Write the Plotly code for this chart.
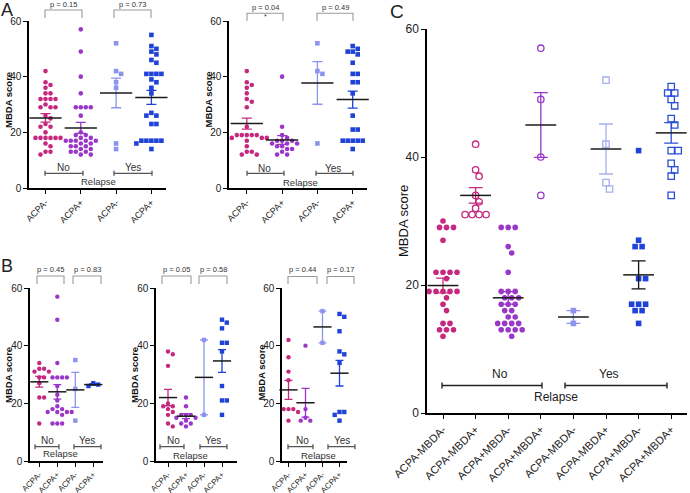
import numpy as np
import plotly.graph_objects as go

W, H = 690, 493

# ---- data (MBDA scores) ----
ab_ticks = ["ACPA-", "ACPA+", "ACPA-", "ACPA+"]
c_ticks = ["ACPA-MBDA-", "ACPA-MBDA+", "ACPA+MBDA-", "ACPA+MBDA+",
           "ACPA-MBDA-", "ACPA-MBDA+", "ACPA+MBDA-", "ACPA+MBDA+"]

a1_neg_no = [42, 38, 37, 36, 34, 34, 32, 32, 32, 32, 30, 29, 29, 29, 26, 25, 23, 22, 22,
             20, 18, 18, 18, 18, 18, 18, 16, 15, 13, 13, 12]
a1_pos_no = [57, 49, 40, 34, 29, 29, 29, 29, 26, 20, 19, 19, 18, 18, 17, 17, 17, 17, 17,
             16, 16, 15, 15, 15, 14, 14, 13, 13, 13, 12, 12]
a1_neg_yes = [52, 42, 41, 38, 36, 16, 14]
a1_pos_yes = [55, 51, 50, 49, 48, 46, 45, 41, 41, 41, 41, 39, 38, 36, 34, 27, 26, 26, 23, 23,
              17, 17, 17, 17, 17, 16, 16, 14]

a2_neg_no = [42, 38, 37, 36, 34, 32, 31, 29, 22, 19, 19, 19, 19, 19, 18, 18, 18, 17, 15,
             13, 13, 12, 12]
a2_pos_no = [40, 22, 19, 18, 17, 17, 17, 16, 16, 16, 15, 15, 14, 14, 13, 12, 12]
a2_neg_yes = [52, 42, 41, 16]
a2_pos_yes = [51, 50, 49, 49, 48, 45, 41, 41, 38, 38, 34, 26, 21, 21, 17, 17, 17, 17, 17, 16, 14]

b1_neg_no = [34, 32, 32, 31, 31, 29, 29, 27, 22, 22, 13]
b1_pos_no = [57, 49, 34, 29, 29, 29, 29, 26, 23, 21, 19, 18, 18, 17, 17, 17, 17, 16, 13, 13, 13]
b1_neg_yes = [35, 25, 14]
b1_pos_yes = [26, 26.5, 27]

b2_neg_no = [38, 37, 33, 20, 19, 19, 18, 17, 16, 13, 12]
b2_pos_no = [22, 19, 16, 16, 16, 15, 15, 14, 13, 13, 12]
b2_neg_yes = [42, 16]
b2_pos_yes = [49, 48, 46, 41, 41, 38, 26, 21, 21, 16]

b3_neg_no = [42, 36, 31, 28, 18, 18, 18, 17, 14]
b3_pos_no = [40, 18, 15, 14, 14]
b3_neg_yes = [52, 41]
b3_pos_yes = [51, 50, 45, 38, 37, 34, 17, 17, 16, 16, 14]

c_neg_mneg_no = [30, 29, 29, 29, 27, 22, 22, 22, 22, 21, 19, 19, 19, 19, 19, 18, 17, 16, 14,
                 14, 13, 13, 13, 12]
c_neg_mpos_no = [42, 38, 37, 34, 33, 32, 31, 31, 31, 31]
c_pos_mneg_no = [29, 29, 29, 26, 25, 22, 19, 19, 19, 18, 18, 18, 17, 17, 17, 16, 16, 15, 15,
                 14, 14, 14, 14, 13, 13, 13, 13, 12]
c_pos_mpos_no = [57, 49, 40, 34]
c_neg_mneg_yes = [16, 14]
c_neg_mpos_yes = [52, 42, 36, 35]
c_pos_mneg_yes = [41, 27, 26, 26, 21, 21, 17, 17, 17, 16, 16, 14]
c_pos_mpos_yes = [51, 50, 50, 49, 48, 46, 45, 41, 41, 39, 38, 37, 34]

a1_p = ["p = 0.15", "p = 0.73"]
a2_p = ["p = 0.04", "p = 0.49"]
b1_p = ["p = 0.45", "p = 0.83"]
b2_p = ["p = 0.05", "p = 0.58"]
b3_p = ["p = 0.44", "p = 0.17"]

PINK = "#c5287e"
PURPLE = "#9a37c8"
LBLUE = "#8c93ef"
BLUE = "#1f42d8"
LBLUE_OPEN = "#a7b0ee"
BLUE_OPEN = "#2a4fd6"
FONT = "Arial, Liberation Sans, sans-serif"


def px(x):
    return x / W


def py(y):
    return 1 - y / H


def swarm(vals, xpx, ypx, d):
    # simple beeswarm: spread points sideways so that dots do not overlap
    vals = np.asarray(vals, dtype=float)
    steps = [0.0]
    for i in range(1, 40):
        steps += [i * d / 2, -i * d / 2]
    placed, offs = [], np.zeros(len(vals))
    for idx in np.argsort(-vals, kind="stable"):
        y = vals[idx] * ypx
        for s in steps:
            if all((s - ox) ** 2 + (y - oy) ** 2 >= (0.97 * d) ** 2 for ox, oy in placed):
                break
        placed.append((s, y))
        offs[idx] = s / xpx
    return offs


ab_groups = lambda g: [
    (g[0], PINK, "circle", PINK),
    (g[1], PURPLE, "circle", PURPLE),
    (g[2], LBLUE, "square", LBLUE),
    (g[3], BLUE, "square", BLUE),
]

panels = [
    dict(box=(29, 166, 21, 188), cat0=45.5, sp=35.3, ticks=ab_ticks, msize=4.6, gap=5.0,
         mlen=23, cap=5, tfont=10, xfont=9,
         groups=ab_groups([a1_neg_no, a1_pos_no, a1_neg_yes, a1_pos_yes])),
    dict(box=(229, 367, 21, 188), cat0=246.8, sp=35.3, ticks=ab_ticks, msize=4.6, gap=5.0,
         mlen=23, cap=5, tfont=10, xfont=9,
         groups=ab_groups([a2_neg_no, a2_pos_no, a2_neg_yes, a2_pos_yes])),
    dict(box=(30, 103, 288, 461), cat0=39.3, sp=18, ticks=ab_ticks, msize=4.4, gap=4.8,
         mlen=13, cap=4, tfont=10, xfont=8,
         groups=ab_groups([b1_neg_no, b1_pos_no, b1_neg_yes, b1_pos_yes])),
    dict(box=(156, 237, 288, 461), cat0=168, sp=18, ticks=ab_ticks, msize=4.4, gap=4.8,
         mlen=13, cap=4, tfont=10, xfont=8,
         groups=ab_groups([b2_neg_no, b2_pos_no, b2_neg_yes, b2_pos_yes])),
    dict(box=(282, 347, 288, 461), cat0=288.5, sp=17, ticks=ab_ticks, msize=4.4, gap=4.8,
         mlen=13, cap=4, tfont=10, xfont=8,
         groups=ab_groups([b3_neg_no, b3_pos_no, b3_neg_yes, b3_pos_yes])),
    dict(box=(427, 687, 29, 413), cat0=443, sp=32.6, ticks=c_ticks, msize=5.6, gap=7.0,
         mlen=22, cap=7, tfont=12, xfont=11,
         groups=[
             (c_neg_mneg_no, PINK, "circle", PINK),
             (c_neg_mpos_no, PINK, "circle-open", PINK),
             (c_pos_mneg_no, PURPLE, "circle", PURPLE),
             (c_pos_mpos_no, PURPLE, "circle-open", PURPLE),
             (c_neg_mneg_yes, LBLUE, "square", LBLUE),
             (c_neg_mpos_yes, LBLUE_OPEN, "square-open", LBLUE_OPEN),
             (c_pos_mneg_yes, BLUE, "square", "#111111"),
             (c_pos_mpos_yes, BLUE_OPEN, "square-open", BLUE_OPEN),
         ]),
]

fig = go.Figure()
layout = {}
for k, p in enumerate(panels):
    sfx = "" if k == 0 else str(k + 1)
    xa, ya = "x" + sfx, "y" + sfx
    left, right, top, bottom = p["box"]
    xr = [(left - p["cat0"]) / p["sp"], (right - p["cat0"]) / p["sp"]]
    ypx = (bottom - top) / 60.0
    n = len(p["ticks"])
    layout["xaxis" + sfx] = dict(
        domain=[px(left), px(right)], range=xr, anchor=ya, automargin=False,
        tickmode="array", tickvals=list(range(n)), ticktext=p["ticks"], tickangle=-45,
        showline=True, linecolor="black", linewidth=1.5, ticks="outside", ticklen=4,
        tickwidth=1.3, tickcolor="black", showgrid=False, zeroline=False,
        tickfont=dict(size=p["xfont"], color="#222", family=FONT),
    )
    layout["yaxis" + sfx] = dict(
        domain=[py(bottom), py(top)], range=[0, 60], anchor=xa, automargin=False,
        tickmode="array", tickvals=[0, 20, 40, 60],
        showline=True, linecolor="black", linewidth=1.5, ticks="outside", ticklen=4,
        tickwidth=1.3, tickcolor="black", showgrid=False, zeroline=False,
        tickfont=dict(size=p["tfont"], color="#222", family=FONT),
    )
    # dots
    for i, (vals, col, sym, ecol) in enumerate(p["groups"]):
        offs = swarm(vals, p["sp"], ypx, p["gap"])
        open_ = sym.endswith("open")
        fig.add_trace(go.Scatter(
            x=i + offs, y=vals, mode="markers", xaxis=xa, yaxis=ya, showlegend=False,
            cliponaxis=False,
            marker=dict(symbol=sym, size=p["msize"] + (0.8 if open_ else 0), color=col,
                        line=dict(width=1.3 if open_ else 0, color=col)),
        ))
    # mean +/- SEM
    for i, (vals, col, sym, ecol) in enumerate(p["groups"]):
        v = np.asarray(vals, dtype=float)
        mean = v.mean()
        sem = v.std(ddof=1) / np.sqrt(len(v))
        fig.add_trace(go.Scatter(
            x=[i], y=[mean], mode="markers", xaxis=xa, yaxis=ya, showlegend=False,
            cliponaxis=False,
            marker=dict(symbol="line-ew", size=p["mlen"], color="#1a1a1a",
                        line=dict(width=1.5, color="#1a1a1a")),
            error_y=dict(type="data", array=[sem], color=ecol, thickness=1.3,
                         width=p["cap"]),
        ))

shapes, annotations = [], []


def text(x, y, s, size, **kw):
    annotations.append(dict(
        x=px(x), y=py(y), xref="paper", yref="paper", text=s, showarrow=False,
        xanchor="center", yanchor="middle",
        font=dict(size=size, color=kw.pop("color", "#222"), family=FONT), **kw))


def p_bracket(x1, x2, yl, ye, color="#9a9a9a"):
    shapes.append(dict(
        type="path", xref="paper", yref="paper",
        path=f"M {px(x1)},{py(ye)} L {px(x1)},{py(yl)} L {px(x2)},{py(yl)} L {px(x2)},{py(ye)}",
        line=dict(color=color, width=1.1)))


def g_bracket(x1, x2, y, c=2.5, color="#555555", w=1.3):
    shapes.append(dict(
        type="path", xref="paper", yref="paper",
        path=(f"M {px(x1)},{py(y - c)} L {px(x1)},{py(y + c)} "
              f"M {px(x1)},{py(y)} L {px(x2)},{py(y)} "
              f"M {px(x2)},{py(y - c)} L {px(x2)},{py(y + c)}"),
        line=dict(color=color, width=w)))


# decorations for A and B panels (pixel positions)
deco = [
    dict(pb=[(45, 82), (114, 151)], pl=10, pe=18, pt=4.5, labels=a1_p,
         gb=[(45, 83), (114, 152)], gy=173.3, gt=[(63, 167.5), (133, 167.5)], rel=(98, 181.5),
         gsize=10),
    dict(pb=[(247, 283), (317, 353)], pl=13.3, pe=21, pt=7, labels=a2_p,
         gb=[(247, 284), (316, 353)], gy=173.3, gt=[(264, 168), (333, 168)], rel=(300, 182.5),
         gsize=10),
    dict(pb=[(37, 64), (73, 101)], pl=276, pe=284, pt=269.3, labels=b1_p,
         gb=[(35, 59), (74, 101)], gy=446.7, gt=[(47, 440), (87, 440)], rel=(60, 453.5),
         gsize=10),
    dict(pb=[(162, 191), (199, 227)], pl=276, pe=284, pt=269.3, labels=b2_p,
         gb=[(160, 184), (200, 227)], gy=446.7, gt=[(173, 440), (213, 440)], rel=(190, 455),
         gsize=10),
    dict(pb=[(288, 317), (327, 354)], pl=276.5, pe=284, pt=269.3, labels=b3_p,
         gb=[(288, 313), (328, 355)], gy=446.7, gt=[(302, 440), (342, 440)], rel=(318, 455),
         gsize=10),
]
for d in deco:
    for (x1, x2), lab in zip(d["pb"], d["labels"]):
        p_bracket(x1, x2, d["pl"], d["pe"])
        text((x1 + x2) / 2, d["pt"], lab, 7.5, color="#333")
    for (x1, x2) in d["gb"]:
        g_bracket(x1, x2, d["gy"])
    for (x, y), s in zip(d["gt"], ["No", "Yes"]):
        text(x, y, s, d["gsize"], color="#333")
    text(d["rel"][0], d["rel"][1], "Relapse", 9.5, color="#333")

text(265, 17, "*", 7, color="#333")

# panel C brackets
g_bracket(442, 542, 385.5, c=3, color="#222", w=1.4)
g_bracket(565, 667, 385.5, c=3, color="#222", w=1.4)
text(500, 374, "No", 12)
text(609, 374, "Yes", 12)
text(556, 397, "Relapse", 12)

# panel letters and y titles
text(7, 10, "A", 18)
text(7, 266, "B", 18)
text(397, 12, "C", 19)
for x, y in [(8, 100), (207.5, 100), (8, 375), (134, 375), (260.5, 373)]:
    text(x, y, "<b>MBDA score</b>", 9.5, textangle=-90, color="#111")
text(403, 221, "MBDA score", 13, textangle=-90, color="#111")

fig.update_layout(
    width=W, height=H, margin=dict(l=0, r=0, t=0, b=0),
    plot_bgcolor="white", paper_bgcolor="white",
    font=dict(family=FONT, size=10, color="#222"),
    shapes=shapes, annotations=annotations, **layout,
)
# the page body has a default 8px margin; drop it so the figure fills the window
fig.write_html("out.html", config={"displayModeBar": False},
               post_script="document.body.style.margin = '0';")
